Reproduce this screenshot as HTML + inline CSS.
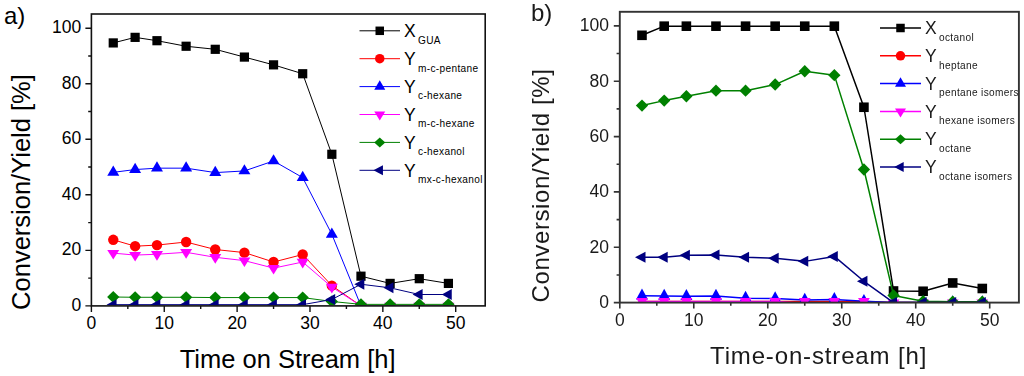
<!DOCTYPE html>
<html><head><meta charset="utf-8"><style>
html,body{margin:0;padding:0;background:#fff;width:1024px;height:376px;overflow:hidden}
svg{display:block}
text{font-family:"Liberation Sans",sans-serif}
.tl{font-size:17.5px}
.at{font-size:25.5px}
.at2{font-size:24px;letter-spacing:0.85px}
.at3{font-size:24px;letter-spacing:0.6px}
.pl{font-size:24px}
.lm{font-size:17.5px}
.ls{font-size:10.1px;letter-spacing:0.35px}
</style></head><body>
<svg width="1024" height="376" viewBox="0 0 1024 376">
<rect width="1024" height="376" fill="#fff"/>
<clipPath id="ca"><rect x="91.4" y="14" width="393.8" height="291.2"/></clipPath>
<g clip-path="url(#ca)">
<polyline points="113.26,42.92 135.12,37.36 156.97,40.7 186.12,46.25 215.26,49.31 244.41,57.08 273.55,64.86 302.69,73.74 331.84,154.28 360.98,276.19 390.13,283.41 419.27,278.69 448.41,283.41" fill="none" stroke="#000000" stroke-width="1.0" stroke-linejoin="round"/>
<rect x="108.66" y="38.32" width="9.2" height="9.2" fill="#000000"/>
<rect x="130.52" y="32.76" width="9.2" height="9.2" fill="#000000"/>
<rect x="152.37" y="36.1" width="9.2" height="9.2" fill="#000000"/>
<rect x="181.52" y="41.65" width="9.2" height="9.2" fill="#000000"/>
<rect x="210.66" y="44.71" width="9.2" height="9.2" fill="#000000"/>
<rect x="239.81" y="52.48" width="9.2" height="9.2" fill="#000000"/>
<rect x="268.95" y="60.26" width="9.2" height="9.2" fill="#000000"/>
<rect x="298.09" y="69.14" width="9.2" height="9.2" fill="#000000"/>
<rect x="327.24" y="149.68" width="9.2" height="9.2" fill="#000000"/>
<rect x="356.38" y="271.59" width="9.2" height="9.2" fill="#000000"/>
<rect x="385.53" y="278.81" width="9.2" height="9.2" fill="#000000"/>
<rect x="414.67" y="274.09" width="9.2" height="9.2" fill="#000000"/>
<rect x="443.81" y="278.81" width="9.2" height="9.2" fill="#000000"/>
<polyline points="113.26,239.81 135.12,246.19 156.97,245.08 186.12,242.03 215.26,249.53 244.41,252.58 273.55,262.02 302.69,254.53 331.84,285.63 360.98,305.9 390.13,305.9 419.27,305.9 448.41,305.9" fill="none" stroke="#FF0000" stroke-width="1.0" stroke-linejoin="round"/>
<circle cx="113.26" cy="239.81" r="5.2" fill="#FF0000"/>
<circle cx="135.12" cy="246.19" r="5.2" fill="#FF0000"/>
<circle cx="156.97" cy="245.08" r="5.2" fill="#FF0000"/>
<circle cx="186.12" cy="242.03" r="5.2" fill="#FF0000"/>
<circle cx="215.26" cy="249.53" r="5.2" fill="#FF0000"/>
<circle cx="244.41" cy="252.58" r="5.2" fill="#FF0000"/>
<circle cx="273.55" cy="262.02" r="5.2" fill="#FF0000"/>
<circle cx="302.69" cy="254.53" r="5.2" fill="#FF0000"/>
<circle cx="331.84" cy="285.63" r="5.2" fill="#FF0000"/>
<circle cx="360.98" cy="305.9" r="5.2" fill="#FF0000"/>
<circle cx="390.13" cy="305.9" r="5.2" fill="#FF0000"/>
<circle cx="419.27" cy="305.9" r="5.2" fill="#FF0000"/>
<circle cx="448.41" cy="305.9" r="5.2" fill="#FF0000"/>
<polyline points="113.26,172.33 135.12,169.55 156.97,168.16 186.12,168.16 215.26,172.6 244.41,170.94 273.55,160.94 302.69,177.6 331.84,234.25 360.98,305.9 390.13,305.9 419.27,305.9 448.41,305.9" fill="none" stroke="#0000FF" stroke-width="1.0" stroke-linejoin="round"/>
<path d="M113.26 165.53L119.26 175.73L107.26 175.73Z" fill="#0000FF"/>
<path d="M135.12 162.75L141.12 172.95L129.12 172.95Z" fill="#0000FF"/>
<path d="M156.97 161.36L162.97 171.56L150.97 171.56Z" fill="#0000FF"/>
<path d="M186.12 161.36L192.12 171.56L180.12 171.56Z" fill="#0000FF"/>
<path d="M215.26 165.8L221.26 176L209.26 176Z" fill="#0000FF"/>
<path d="M244.41 164.14L250.41 174.34L238.41 174.34Z" fill="#0000FF"/>
<path d="M273.55 154.14L279.55 164.34L267.55 164.34Z" fill="#0000FF"/>
<path d="M302.69 170.8L308.69 181L296.69 181Z" fill="#0000FF"/>
<path d="M331.84 227.45L337.84 237.65L325.84 237.65Z" fill="#0000FF"/>
<path d="M360.98 299.1L366.98 309.3L354.98 309.3Z" fill="#0000FF"/>
<path d="M390.13 299.1L396.13 309.3L384.13 309.3Z" fill="#0000FF"/>
<path d="M419.27 299.1L425.27 309.3L413.27 309.3Z" fill="#0000FF"/>
<path d="M448.41 299.1L454.41 309.3L442.41 309.3Z" fill="#0000FF"/>
<polyline points="113.26,253.14 135.12,255.08 156.97,254.25 186.12,252.3 215.26,257.3 244.41,260.63 273.55,268.13 302.69,262.02 331.84,287.02 360.98,305.9 390.13,305.9 419.27,305.9 448.41,305.9" fill="none" stroke="#FF00FF" stroke-width="1.0" stroke-linejoin="round"/>
<path d="M107.26 249.94L119.26 249.94L113.26 259.54Z" fill="#FF00FF"/>
<path d="M129.12 251.88L141.12 251.88L135.12 261.48Z" fill="#FF00FF"/>
<path d="M150.97 251.05L162.97 251.05L156.97 260.65Z" fill="#FF00FF"/>
<path d="M180.12 249.1L192.12 249.1L186.12 258.7Z" fill="#FF00FF"/>
<path d="M209.26 254.1L221.26 254.1L215.26 263.7Z" fill="#FF00FF"/>
<path d="M238.41 257.43L250.41 257.43L244.41 267.03Z" fill="#FF00FF"/>
<path d="M267.55 264.93L279.55 264.93L273.55 274.53Z" fill="#FF00FF"/>
<path d="M296.69 258.82L308.69 258.82L302.69 268.42Z" fill="#FF00FF"/>
<path d="M325.84 283.82L337.84 283.82L331.84 293.42Z" fill="#FF00FF"/>
<path d="M354.98 302.7L366.98 302.7L360.98 312.3Z" fill="#FF00FF"/>
<path d="M384.13 302.7L396.13 302.7L390.13 312.3Z" fill="#FF00FF"/>
<path d="M413.27 302.7L425.27 302.7L419.27 312.3Z" fill="#FF00FF"/>
<path d="M442.41 302.7L454.41 302.7L448.41 312.3Z" fill="#FF00FF"/>
<polyline points="113.26,297.01 135.12,297.29 156.97,297.29 186.12,297.29 215.26,297.57 244.41,297.57 273.55,297.57 302.69,297.57 331.84,301.46 360.98,304.37 390.13,304.37 419.27,304.37 448.41,304.37" fill="none" stroke="#008000" stroke-width="1.0" stroke-linejoin="round"/>
<path d="M113.26 291.01L119.41 297.01L113.26 303.01L107.11 297.01Z" fill="#008000"/>
<path d="M135.12 291.29L141.27 297.29L135.12 303.29L128.97 297.29Z" fill="#008000"/>
<path d="M156.97 291.29L163.12 297.29L156.97 303.29L150.82 297.29Z" fill="#008000"/>
<path d="M186.12 291.29L192.27 297.29L186.12 303.29L179.97 297.29Z" fill="#008000"/>
<path d="M215.26 291.57L221.41 297.57L215.26 303.57L209.11 297.57Z" fill="#008000"/>
<path d="M244.41 291.57L250.56 297.57L244.41 303.57L238.26 297.57Z" fill="#008000"/>
<path d="M273.55 291.57L279.7 297.57L273.55 303.57L267.4 297.57Z" fill="#008000"/>
<path d="M302.69 291.57L308.84 297.57L302.69 303.57L296.54 297.57Z" fill="#008000"/>
<path d="M331.84 295.46L337.99 301.46L331.84 307.46L325.69 301.46Z" fill="#008000"/>
<path d="M360.98 298.37L367.13 304.37L360.98 310.37L354.83 304.37Z" fill="#008000"/>
<path d="M390.13 298.37L396.28 304.37L390.13 310.37L383.98 304.37Z" fill="#008000"/>
<path d="M419.27 298.37L425.42 304.37L419.27 310.37L413.12 304.37Z" fill="#008000"/>
<path d="M448.41 298.37L454.56 304.37L448.41 310.37L442.26 304.37Z" fill="#008000"/>
<polyline points="113.26,304.65 135.12,304.65 156.97,304.65 186.12,304.65 215.26,304.65 244.41,304.65 273.55,304.65 302.69,304.65 331.84,299.51 360.98,284.24 390.13,287.85 419.27,294.51 448.41,294.51" fill="none" stroke="#000080" stroke-width="1.0" stroke-linejoin="round"/>
<path d="M106.59 304.65L116.59 299.15L116.59 310.15Z" fill="#000080"/>
<path d="M128.45 304.65L138.45 299.15L138.45 310.15Z" fill="#000080"/>
<path d="M150.31 304.65L160.31 299.15L160.31 310.15Z" fill="#000080"/>
<path d="M179.45 304.65L189.45 299.15L189.45 310.15Z" fill="#000080"/>
<path d="M208.6 304.65L218.6 299.15L218.6 310.15Z" fill="#000080"/>
<path d="M237.74 304.65L247.74 299.15L247.74 310.15Z" fill="#000080"/>
<path d="M266.88 304.65L276.88 299.15L276.88 310.15Z" fill="#000080"/>
<path d="M296.03 304.65L306.03 299.15L306.03 310.15Z" fill="#000080"/>
<path d="M325.17 299.51L335.17 294.01L335.17 305.01Z" fill="#000080"/>
<path d="M354.32 284.24L364.32 278.74L364.32 289.74Z" fill="#000080"/>
<path d="M383.46 287.85L393.46 282.35L393.46 293.35Z" fill="#000080"/>
<path d="M412.6 294.51L422.6 289.01L422.6 300.01Z" fill="#000080"/>
<path d="M441.75 294.51L451.75 289.01L451.75 300.01Z" fill="#000080"/>
</g>
<rect x="91.4" y="14" width="393.8" height="291.9" fill="none" stroke="#111" stroke-width="1.6"/>
<path d="M91.4 305.9v6M127.83 305.9v3.2M164.26 305.9v6M200.69 305.9v3.2M237.12 305.9v6M273.55 305.9v3.2M309.98 305.9v6M346.41 305.9v3.2M382.84 305.9v6M419.27 305.9v3.2M455.7 305.9v6M91.4 305.9h-6M91.4 278.13h-3.2M91.4 250.36h-6M91.4 222.59h-3.2M91.4 194.82h-6M91.4 167.05h-3.2M91.4 139.28h-6M91.4 111.51h-3.2M91.4 83.74h-6M91.4 55.97h-3.2M91.4 28.2h-6" stroke="#111" stroke-width="1.4" fill="none"/>
<text x="81.3" y="310.7" text-anchor="end" class="tl" fill="#000">0</text>
<text x="81.3" y="255.16" text-anchor="end" class="tl" fill="#000">20</text>
<text x="81.3" y="199.62" text-anchor="end" class="tl" fill="#000">40</text>
<text x="81.3" y="144.08" text-anchor="end" class="tl" fill="#000">60</text>
<text x="81.3" y="88.54" text-anchor="end" class="tl" fill="#000">80</text>
<text x="81.3" y="33" text-anchor="end" class="tl" fill="#000">100</text>
<text x="91.4" y="328.7" text-anchor="middle" class="tl" fill="#000">0</text>
<text x="164.26" y="328.7" text-anchor="middle" class="tl" fill="#000">10</text>
<text x="237.12" y="328.7" text-anchor="middle" class="tl" fill="#000">20</text>
<text x="309.98" y="328.7" text-anchor="middle" class="tl" fill="#000">30</text>
<text x="382.84" y="328.7" text-anchor="middle" class="tl" fill="#000">40</text>
<text x="455.7" y="328.7" text-anchor="middle" class="tl" fill="#000">50</text>
<path d="M359.5 30.8H400" stroke="#000000" stroke-width="1.0"/>
<rect x="375.5" y="26.55" width="8.5" height="8.5" fill="#000000"/>
<text x="404" y="37" class="lm" fill="#000">X</text>
<text x="418" y="43.6" class="ls" fill="#000">GUA</text>
<path d="M359.5 58.7H400" stroke="#FF0000" stroke-width="1.0"/>
<circle cx="379.75" cy="58.7" r="4.75" fill="#FF0000"/>
<text x="404" y="64.9" class="lm" fill="#000">Y</text>
<text x="418" y="71.5" class="ls" fill="#000">m-c-pentane</text>
<path d="M359.5 86.6H400" stroke="#0000FF" stroke-width="1.0"/>
<path d="M379.75 80.27L385.25 89.77L374.25 89.77Z" fill="#0000FF"/>
<text x="404" y="92.8" class="lm" fill="#000">Y</text>
<text x="418" y="99.4" class="ls" fill="#000">c-hexane</text>
<path d="M359.5 114.5H400" stroke="#FF00FF" stroke-width="1.0"/>
<path d="M374.25 111.5L385.25 111.5L379.75 120.5Z" fill="#FF00FF"/>
<text x="404" y="120.7" class="lm" fill="#000">Y</text>
<text x="418" y="127.3" class="ls" fill="#000">m-c-hexane</text>
<path d="M359.5 142.4H400" stroke="#008000" stroke-width="1.0"/>
<path d="M379.75 137.4L385.25 142.4L379.75 147.4L374.25 142.4Z" fill="#008000"/>
<text x="404" y="148.6" class="lm" fill="#000">Y</text>
<text x="418" y="155.2" class="ls" fill="#000">c-hexanol</text>
<path d="M359.5 170.3H400" stroke="#000080" stroke-width="1.0"/>
<path d="M373.42 170.3L382.92 165.3L382.92 175.3Z" fill="#000080"/>
<text x="404" y="176.5" class="lm" fill="#000">Y</text>
<text x="418" y="183.1" class="ls" fill="#000">mx-c-hexanol</text>
<text x="29.5" y="192" transform="rotate(-90 29.5 192)" text-anchor="middle" class="at" fill="#000">Conversion/Yield [%]</text><text x="287.6" y="368.4" text-anchor="middle" class="at" fill="#000">Time on Stream [h]</text><text x="4" y="23.6" class="pl" fill="#000">a)</text>
<g style="will-change:transform">
<clipPath id="cb"><rect x="619.8" y="11.8" width="399.1" height="290.1"/></clipPath>
<g clip-path="url(#cb)">
<polyline points="641.99,35.31 664.19,26.18 686.38,26.18 715.97,26.18 745.57,26.18 775.16,26.18 804.75,26.18 834.34,26.18 863.93,107.25 893.53,290.98 923.12,291.26 952.71,282.95 982.3,288.49" fill="none" stroke="#000000" stroke-width="1.5" stroke-linejoin="round"/>
<rect x="637.19" y="30.51" width="9.6" height="9.6" fill="#000000"/>
<rect x="659.39" y="21.38" width="9.6" height="9.6" fill="#000000"/>
<rect x="681.58" y="21.38" width="9.6" height="9.6" fill="#000000"/>
<rect x="711.17" y="21.38" width="9.6" height="9.6" fill="#000000"/>
<rect x="740.77" y="21.38" width="9.6" height="9.6" fill="#000000"/>
<rect x="770.36" y="21.38" width="9.6" height="9.6" fill="#000000"/>
<rect x="799.95" y="21.38" width="9.6" height="9.6" fill="#000000"/>
<rect x="829.54" y="21.38" width="9.6" height="9.6" fill="#000000"/>
<rect x="859.13" y="102.45" width="9.6" height="9.6" fill="#000000"/>
<rect x="888.73" y="286.18" width="9.6" height="9.6" fill="#000000"/>
<rect x="918.32" y="286.46" width="9.6" height="9.6" fill="#000000"/>
<rect x="947.91" y="278.15" width="9.6" height="9.6" fill="#000000"/>
<rect x="977.5" y="283.69" width="9.6" height="9.6" fill="#000000"/>
<polyline points="641.99,301.49 664.19,301.49 686.38,301.49 715.97,301.49 745.57,301.49 775.16,301.49 804.75,301.49 834.34,301.49 863.93,301.49 893.53,302.6 923.12,302.6 952.71,302.6 982.3,302.6" fill="none" stroke="#FF0000" stroke-width="1.5" stroke-linejoin="round"/>
<circle cx="641.99" cy="305.37" r="5" fill="#FF0000"/>
<circle cx="664.19" cy="305.37" r="5" fill="#FF0000"/>
<circle cx="686.38" cy="305.37" r="5" fill="#FF0000"/>
<circle cx="715.97" cy="305.37" r="5" fill="#FF0000"/>
<circle cx="745.57" cy="305.37" r="5" fill="#FF0000"/>
<circle cx="775.16" cy="305.37" r="5" fill="#FF0000"/>
<circle cx="804.75" cy="305.37" r="5" fill="#FF0000"/>
<circle cx="834.34" cy="305.37" r="5" fill="#FF0000"/>
<circle cx="863.93" cy="305.37" r="5" fill="#FF0000"/>
<circle cx="893.53" cy="305.37" r="5" fill="#FF0000"/>
<circle cx="923.12" cy="305.37" r="5" fill="#FF0000"/>
<circle cx="952.71" cy="305.37" r="5" fill="#FF0000"/>
<circle cx="982.3" cy="305.37" r="5" fill="#FF0000"/>
<polyline points="641.99,295.82 664.19,295.96 686.38,296.24 715.97,295.96 745.57,298.17 775.16,298.59 804.75,300.11 834.34,299.42 863.93,301.22 893.53,302.6 923.12,302.6 952.71,302.6 982.3,302.6" fill="none" stroke="#0000FF" stroke-width="1.5" stroke-linejoin="round"/>
<path d="M641.99 288.49L647.99 299.49L635.99 299.49Z" fill="#0000FF"/>
<path d="M664.19 288.63L670.19 299.63L658.19 299.63Z" fill="#0000FF"/>
<path d="M686.38 288.9L692.38 299.9L680.38 299.9Z" fill="#0000FF"/>
<path d="M715.97 288.63L721.97 299.63L709.97 299.63Z" fill="#0000FF"/>
<path d="M745.57 290.84L751.57 301.84L739.57 301.84Z" fill="#0000FF"/>
<path d="M775.16 291.25L781.16 302.25L769.16 302.25Z" fill="#0000FF"/>
<path d="M804.75 292.78L810.75 303.78L798.75 303.78Z" fill="#0000FF"/>
<path d="M834.34 292.08L840.34 303.08L828.34 303.08Z" fill="#0000FF"/>
<path d="M863.93 293.88L869.93 304.88L857.93 304.88Z" fill="#0000FF"/>
<path d="M893.53 295.27L899.53 306.27L887.53 306.27Z" fill="#0000FF"/>
<path d="M923.12 295.27L929.12 306.27L917.12 306.27Z" fill="#0000FF"/>
<path d="M952.71 295.27L958.71 306.27L946.71 306.27Z" fill="#0000FF"/>
<path d="M982.3 295.27L988.3 306.27L976.3 306.27Z" fill="#0000FF"/>
<polyline points="641.99,301.49 664.19,301.49 686.38,301.49 715.97,301.49 745.57,301.49 775.16,301.49 804.75,303.43 834.34,303.43 863.93,303.43 893.53,303.43 923.12,303.43 952.71,303.43 982.3,303.43" fill="none" stroke="#FF00FF" stroke-width="1.5" stroke-linejoin="round"/>
<path d="M636.09 298.02L647.89 298.02L641.99 307.62Z" fill="#FF00FF"/>
<path d="M658.29 298.02L670.09 298.02L664.19 307.62Z" fill="#FF00FF"/>
<path d="M680.48 298.02L692.28 298.02L686.38 307.62Z" fill="#FF00FF"/>
<path d="M710.07 298.02L721.87 298.02L715.97 307.62Z" fill="#FF00FF"/>
<path d="M739.67 298.02L751.47 298.02L745.57 307.62Z" fill="#FF00FF"/>
<path d="M769.26 298.02L781.06 298.02L775.16 307.62Z" fill="#FF00FF"/>
<path d="M798.85 298.02L810.65 298.02L804.75 307.62Z" fill="#FF00FF"/>
<path d="M828.44 298.02L840.24 298.02L834.34 307.62Z" fill="#FF00FF"/>
<path d="M858.03 298.02L869.83 298.02L863.93 307.62Z" fill="#FF00FF"/>
<path d="M887.63 299.4L899.43 299.4L893.53 309Z" fill="#FF00FF"/>
<path d="M917.22 299.4L929.02 299.4L923.12 309Z" fill="#FF00FF"/>
<path d="M946.81 299.4L958.61 299.4L952.71 309Z" fill="#FF00FF"/>
<path d="M976.4 299.4L988.2 299.4L982.3 309Z" fill="#FF00FF"/>
<polyline points="641.99,105.59 664.19,100.61 686.38,96.18 715.97,90.65 745.57,90.65 775.16,84.56 804.75,71.28 834.34,75.15 863.93,169.51 893.53,295.41 923.12,301.22 952.71,301.77 982.3,301.77" fill="none" stroke="#008000" stroke-width="1.5" stroke-linejoin="round"/>
<path d="M641.99 99.39L648.14 105.59L641.99 111.79L635.84 105.59Z" fill="#008000"/>
<path d="M664.19 94.41L670.34 100.61L664.19 106.81L658.04 100.61Z" fill="#008000"/>
<path d="M686.38 89.98L692.53 96.18L686.38 102.38L680.23 96.18Z" fill="#008000"/>
<path d="M715.97 84.45L722.12 90.65L715.97 96.85L709.82 90.65Z" fill="#008000"/>
<path d="M745.57 84.45L751.72 90.65L745.57 96.85L739.42 90.65Z" fill="#008000"/>
<path d="M775.16 78.36L781.31 84.56L775.16 90.76L769.01 84.56Z" fill="#008000"/>
<path d="M804.75 65.08L810.9 71.28L804.75 77.48L798.6 71.28Z" fill="#008000"/>
<path d="M834.34 68.95L840.49 75.15L834.34 81.35L828.19 75.15Z" fill="#008000"/>
<path d="M863.93 163.31L870.08 169.51L863.93 175.71L857.78 169.51Z" fill="#008000"/>
<path d="M893.53 289.21L899.68 295.41L893.53 301.61L887.38 295.41Z" fill="#008000"/>
<path d="M923.12 295.02L929.27 301.22L923.12 307.42L916.97 301.22Z" fill="#008000"/>
<path d="M952.71 295.57L958.86 301.77L952.71 307.97L946.56 301.77Z" fill="#008000"/>
<path d="M982.3 295.57L988.45 301.77L982.3 307.97L976.15 301.77Z" fill="#008000"/>
<polyline points="641.99,257.22 664.19,257.22 686.38,255.28 715.97,255.01 745.57,257.22 775.16,258.33 804.75,261.37 834.34,256.39 863.93,281.29 893.53,302.6 923.12,302.6 952.71,302.6 982.3,302.6" fill="none" stroke="#000080" stroke-width="1.5" stroke-linejoin="round"/>
<path d="M634.99 257.22L645.49 251.72L645.49 262.72Z" fill="#000080"/>
<path d="M657.19 257.22L667.69 251.72L667.69 262.72Z" fill="#000080"/>
<path d="M679.38 255.28L689.88 249.78L689.88 260.78Z" fill="#000080"/>
<path d="M708.97 255.01L719.47 249.51L719.47 260.51Z" fill="#000080"/>
<path d="M738.57 257.22L749.07 251.72L749.07 262.72Z" fill="#000080"/>
<path d="M768.16 258.33L778.66 252.83L778.66 263.83Z" fill="#000080"/>
<path d="M797.75 261.37L808.25 255.87L808.25 266.87Z" fill="#000080"/>
<path d="M827.34 256.39L837.84 250.89L837.84 261.89Z" fill="#000080"/>
<path d="M856.93 281.29L867.43 275.79L867.43 286.79Z" fill="#000080"/>
<path d="M886.53 302.6L897.03 297.1L897.03 308.1Z" fill="#000080"/>
<path d="M916.12 302.6L926.62 297.1L926.62 308.1Z" fill="#000080"/>
<path d="M945.71 302.6L956.21 297.1L956.21 308.1Z" fill="#000080"/>
<path d="M975.3 302.6L985.8 297.1L985.8 308.1Z" fill="#000080"/>
</g>
<rect x="619.8" y="11.8" width="399.1" height="290.8" fill="none" stroke="#333" stroke-width="1.9"/>
<path d="M619.8 302.6v6M656.79 302.6v3.2M693.78 302.6v6M730.77 302.6v3.2M767.76 302.6v6M804.75 302.6v3.2M841.74 302.6v6M878.73 302.6v3.2M915.72 302.6v6M952.71 302.6v3.2M989.7 302.6v6M619.8 302.6h-6M619.8 274.93h-3.2M619.8 247.26h-6M619.8 219.59h-3.2M619.8 191.92h-6M619.8 164.25h-3.2M619.8 136.58h-6M619.8 108.91h-3.2M619.8 81.24h-6M619.8 53.57h-3.2M619.8 25.9h-6" stroke="#333" stroke-width="1.6" fill="none"/>
<text x="609" y="308" text-anchor="end" class="tl" fill="#1a1a1a">0</text>
<text x="609" y="252.66" text-anchor="end" class="tl" fill="#1a1a1a">20</text>
<text x="609" y="197.32" text-anchor="end" class="tl" fill="#1a1a1a">40</text>
<text x="609" y="141.98" text-anchor="end" class="tl" fill="#1a1a1a">60</text>
<text x="609" y="86.64" text-anchor="end" class="tl" fill="#1a1a1a">80</text>
<text x="609" y="31.3" text-anchor="end" class="tl" fill="#1a1a1a">100</text>
<text x="619.8" y="326" text-anchor="middle" class="tl" fill="#1a1a1a">0</text>
<text x="693.78" y="326" text-anchor="middle" class="tl" fill="#1a1a1a">10</text>
<text x="767.76" y="326" text-anchor="middle" class="tl" fill="#1a1a1a">20</text>
<text x="841.74" y="326" text-anchor="middle" class="tl" fill="#1a1a1a">30</text>
<text x="915.72" y="326" text-anchor="middle" class="tl" fill="#1a1a1a">40</text>
<text x="989.7" y="326" text-anchor="middle" class="tl" fill="#1a1a1a">50</text>
<path d="M880 28H921" stroke="#000000" stroke-width="1.5"/>
<rect x="896.25" y="23.75" width="8.5" height="8.5" fill="#000000"/>
<text x="925" y="34.2" class="lm" fill="#1a1a1a">X</text>
<text x="939" y="40.8" class="ls" fill="#1a1a1a">octanol</text>
<path d="M880 55.8H921" stroke="#FF0000" stroke-width="1.5"/>
<circle cx="900.5" cy="55.8" r="4.75" fill="#FF0000"/>
<text x="925" y="62" class="lm" fill="#1a1a1a">Y</text>
<text x="939" y="68.6" class="ls" fill="#1a1a1a">heptane</text>
<path d="M880 83.6H921" stroke="#0000FF" stroke-width="1.5"/>
<path d="M900.5 77.27L906 86.77L895 86.77Z" fill="#0000FF"/>
<text x="925" y="89.8" class="lm" fill="#1a1a1a">Y</text>
<text x="939" y="96.4" class="ls" fill="#1a1a1a">pentane isomers</text>
<path d="M880 111.4H921" stroke="#FF00FF" stroke-width="1.5"/>
<path d="M895 108.4L906 108.4L900.5 117.4Z" fill="#FF00FF"/>
<text x="925" y="117.6" class="lm" fill="#1a1a1a">Y</text>
<text x="939" y="124.2" class="ls" fill="#1a1a1a">hexane isomers</text>
<path d="M880 139.2H921" stroke="#008000" stroke-width="1.5"/>
<path d="M900.5 134.2L906 139.2L900.5 144.2L895 139.2Z" fill="#008000"/>
<text x="925" y="145.4" class="lm" fill="#1a1a1a">Y</text>
<text x="939" y="152" class="ls" fill="#1a1a1a">octane</text>
<path d="M880 167H921" stroke="#000080" stroke-width="1.5"/>
<path d="M894.17 167L903.67 162L903.67 172Z" fill="#000080"/>
<text x="925" y="173.2" class="lm" fill="#1a1a1a">Y</text>
<text x="939" y="179.8" class="ls" fill="#1a1a1a">octane isomers</text>
<text x="549.3" y="185.5" transform="rotate(-90 549.3 185.5)" text-anchor="middle" class="at3" fill="#1a1a1a">Conversion/Yield [%]</text><text x="818.6" y="364.3" text-anchor="middle" class="at2" fill="#1a1a1a">Time-on-stream [h]</text><text x="531" y="20.8" class="pl" fill="#1a1a1a">b)</text>
</g>
</svg>
</body></html>
